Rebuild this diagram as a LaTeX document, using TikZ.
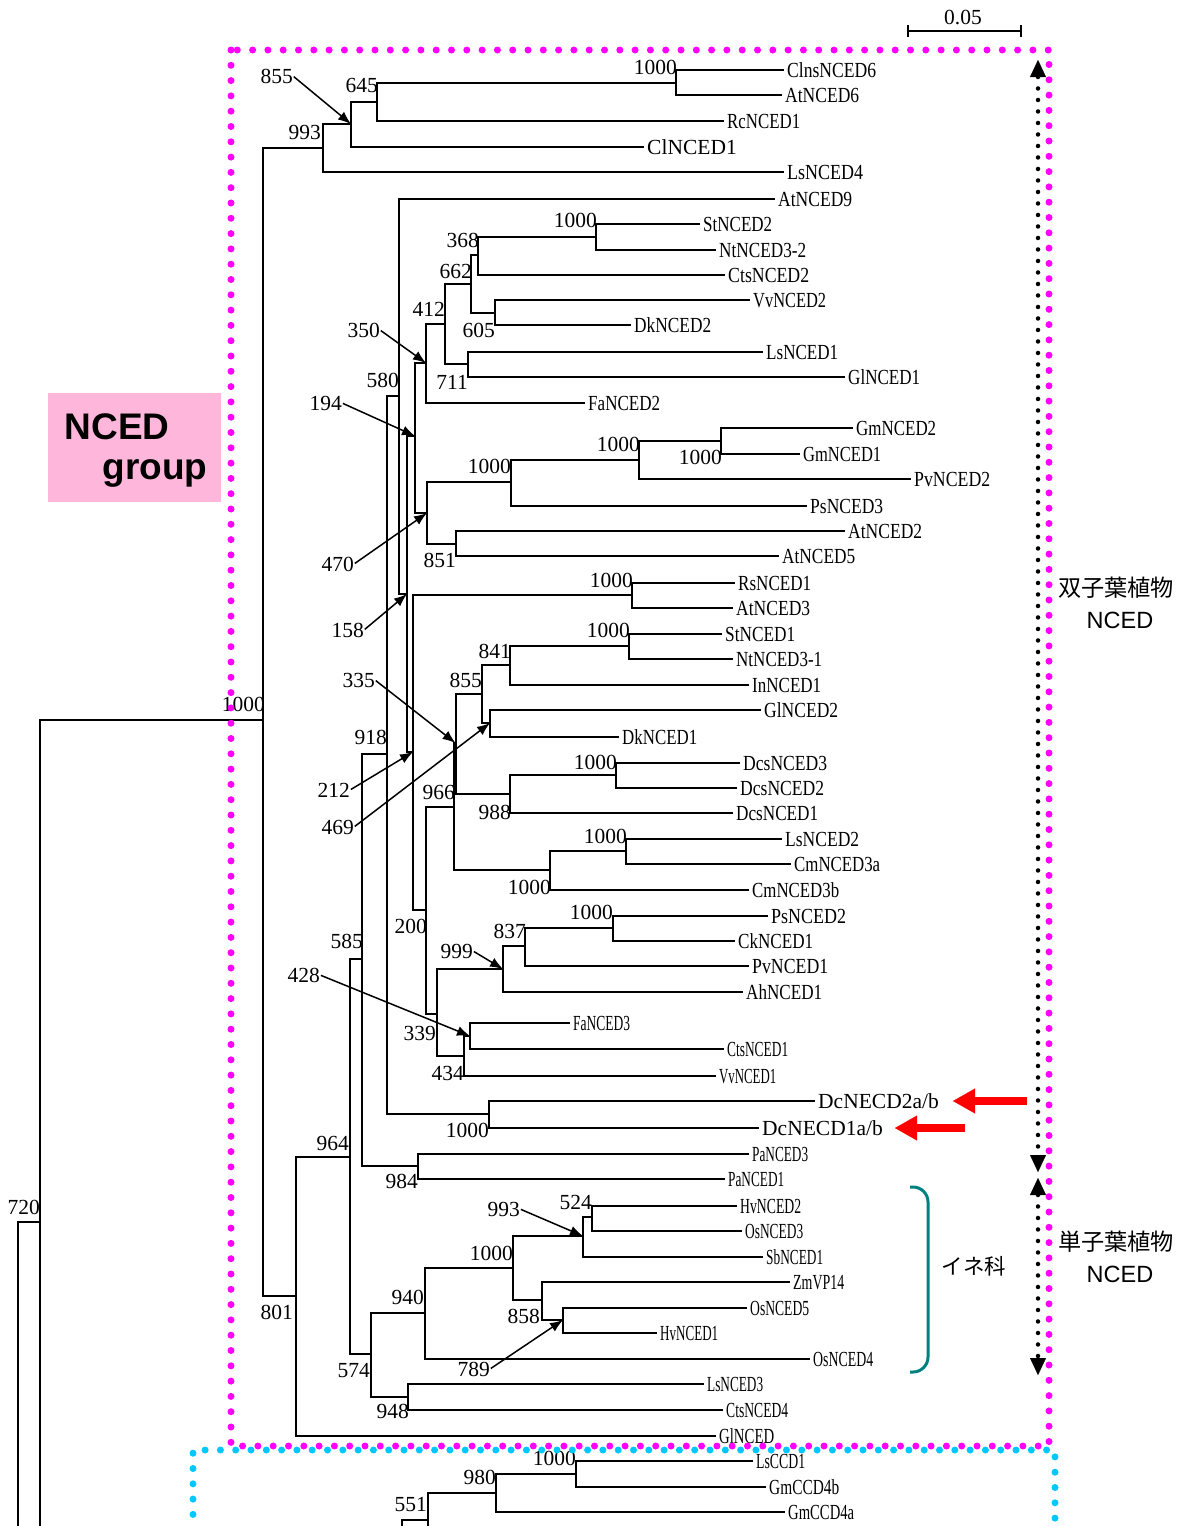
\documentclass[tikz,border=0pt]{standalone}
\usepackage{fontspec}
\setmainfont{Liberation Serif}
\newfontfamily\sansf{Liberation Sans}
\newfontfamily\cjkf{Noto Sans CJK JP}
\usepackage{graphicx}
\usetikzlibrary{arrows.meta}
\definecolor{magc}{RGB}{255,0,255}
\definecolor{cyac}{RGB}{0,200,255}
\definecolor{pinkc}{RGB}{255,182,219}
\definecolor{tealc}{RGB}{0,128,128}
\newcommand\Lf[5]{\node[lf] (#1) at (#2,#3) {\resizebox{#5pt}{\height}{#4}};}
\newcommand\Ln[4]{\node[lf] (#1) at (#2,#3) {#4};}
\newcommand\Bs[4]{\node[bs] (#1) at (#2,#3) {#4};}
\newcommand\Eg[2]{\draw[br] (#1) |- (#2);}
\newcommand\El[2]{\draw[br] (#1) |- (#2.west);}
\newcommand\Pt[2]{\draw[ptr] (#1.east) -- (#2);}
\begin{document}
\begin{tikzpicture}[x=1pt,y=-1pt,
 br/.style={line width=2pt},
 lf/.style={anchor=west,inner xsep=3pt,inner ysep=0pt,font=\fontsize{21.5}{24}\selectfont,text height=14.6pt,text depth=0pt},
 bs/.style={anchor=east,inner sep=0pt,font=\fontsize{21.5}{24}\selectfont,text height=14.6pt,text depth=0pt},
 ptr/.style={line width=1.5pt,-{Latex[length=13pt,width=10pt]},shorten <=1pt},
 magdots/.style={draw=magc,line width=7pt,line cap=round,dash pattern=on 0pt off 15.3pt},
 cyadots/.style={draw=cyac,line width=7pt,line cap=round,dash pattern=on 0pt off 15.3pt},
 blkdots/.style={draw=black,line width=4.5pt,line cap=round,dash pattern=on 0pt off 11.5pt},
 redar/.style={draw=red,line width=8pt,-{Triangle[length=22pt,width=25pt,line width=0.1pt]}},
 bigtip/.style={{Triangle[length=17pt,width=16pt,line width=0.1pt]}-{Triangle[length=17pt,width=16pt,line width=0.1pt]}}
]
\useasboundingbox (0,0) rectangle (1188,1526);

% ---------- NCED group box ----------
\node[fill=pinkc,minimum width=173pt,minimum height=109pt,inner sep=0pt] (gbox) at (134.5,447.5) {};
\node[font=\sansf\bfseries\fontsize{37}{40}\selectfont,inner sep=0pt] (gt1) at (117,426.5) {NCED};
\node[font=\sansf\bfseries\fontsize{37}{40}\selectfont,inner sep=0pt] (gt2) at (155,473.5) {group};

% ---------- internal node coordinates ----------
\coordinate (croot) at (263,720);
\coordinate (c993) at (323,148);
\coordinate (c855) at (351,124);
\coordinate (c645) at (377,102);
\coordinate (c1000a) at (676,82.5);
\coordinate (c801) at (296,1296);
\coordinate (c964) at (350,1157);
\coordinate (c585) at (362,959);
\coordinate (c918) at (387,754);
\coordinate (c580) at (399,396);
\coordinate (c158) at (407,594);
\coordinate (c194) at (415,436);
\coordinate (c350) at (426,363);
\coordinate (c412) at (445,324);
\coordinate (c662) at (471,284);
\coordinate (c368) at (478,255);
\coordinate (c1000b) at (596,237);
\coordinate (c605) at (495,313);
\coordinate (c711) at (468,364);
\coordinate (c470) at (427,513);
\coordinate (c1000c) at (511,482);
\coordinate (c1000d) at (639,460);
\coordinate (c1000e) at (721,441);
\coordinate (c851) at (456,544);
\coordinate (c212) at (413,752);
\coordinate (c1000f) at (632,595);
\coordinate (c200) at (426,910);
\coordinate (c966) at (454,807);
\coordinate (c335) at (455.5,743);
\coordinate (c855b) at (482,694);
\coordinate (c841) at (510,665);
\coordinate (c1000h) at (629,646);
\coordinate (c469) at (490,723);
\coordinate (c988) at (510,794);
\coordinate (c1000i) at (616,775);
\coordinate (c1000g) at (550,870);
\coordinate (c1000j) at (626,851);
\coordinate (c339) at (437,1014);
\coordinate (c999) at (503,969);
\coordinate (c837) at (525,946);
\coordinate (c1000l) at (613,928);
\coordinate (c434) at (464,1056);
\coordinate (c428) at (470,1036);
\coordinate (c1000k) at (489,1114);
\coordinate (c984) at (418,1166);
\coordinate (c574) at (371,1354);
\coordinate (c940) at (425,1313);
\coordinate (c1000m) at (513,1268);
\coordinate (c993b) at (583,1236);
\coordinate (c524) at (592,1217);
\coordinate (c858) at (542,1300);
\coordinate (c789) at (563,1320);
\coordinate (c948) at (408,1397);
\coordinate (c720) at (40,1222);
\coordinate (cut720) at (40,1545);
\coordinate (p18) at (18,1545);
\coordinate (c1000n) at (576,1474);
\coordinate (c980) at (496,1493);
\coordinate (c551) at (428,1520);
\coordinate (cut551) at (428,1545);
\coordinate (p402) at (402,1545);

% ---------- leaves ----------
\Lf{L01}{784}{70}{ClnsNCED6}{89}
\Lf{L02}{782}{95}{AtNCED6}{74}
\Lf{L03}{724}{121}{RcNCED1}{73}
\Ln{L04}{644}{147}{ClNCED1}
\Lf{L05}{784}{172}{LsNCED4}{76}
\Lf{L06}{775}{199}{AtNCED9}{74}
\Lf{L07}{700}{224}{StNCED2}{69}
\Lf{L08}{716}{250}{NtNCED3-2}{87}
\Lf{L09}{725}{275}{CtsNCED2}{81}
\Lf{L10}{750}{300}{VvNCED2}{73}
\Lf{L11}{631}{325}{DkNCED2}{77}
\Lf{L12}{763}{352}{LsNCED1}{72}
\Lf{L13}{845}{377}{GlNCED1}{72}
\Lf{L14}{585}{403}{FaNCED2}{72}
\Lf{L15}{853}{428}{GmNCED2}{80}
\Lf{L16}{800}{454}{GmNCED1}{78}
\Lf{L17}{911}{479}{PvNCED2}{76}
\Lf{L18}{807}{506}{PsNCED3}{73}
\Lf{L19}{845}{531}{AtNCED2}{74}
\Lf{L20}{779}{556}{AtNCED5}{73}
\Lf{L21}{735}{583}{RsNCED1}{73}
\Lf{L22}{733}{608}{AtNCED3}{74}
\Lf{L23}{722}{634}{StNCED1}{70}
\Lf{L24}{733}{659}{NtNCED3-1}{86}
\Lf{L25}{749}{685}{InNCED1}{69}
\Lf{L26}{761}{710}{GlNCED2}{74}
\Lf{L27}{619}{737}{DkNCED1}{75}
\Lf{L28}{740}{763}{DcsNCED3}{84}
\Lf{L29}{737}{788}{DcsNCED2}{84}
\Lf{L30}{733}{813}{DcsNCED1}{82}
\Lf{L31}{782}{839}{LsNCED2}{74}
\Lf{L32}{791}{864}{CmNCED3a}{86}
\Lf{L33}{749}{890}{CmNCED3b}{87}
\Lf{L34}{768}{916}{PsNCED2}{75}
\Lf{L35}{735}{941}{CkNCED1}{75}
\Lf{L36}{749}{966}{PvNCED1}{76}
\Lf{L37}{743}{992}{AhNCED1}{76}
\Lf{L38}{570}{1023}{FaNCED3}{57}
\Lf{L39}{724}{1049}{CtsNCED1}{61}
\Lf{L40}{716}{1076}{VvNCED1}{57}
\Ln{L41}{815}{1101}{DcNECD2a/b}
\Ln{L42}{759}{1128}{DcNECD1a/b}
\Lf{L43}{749}{1154}{PaNCED3}{56}
\Lf{L44}{725}{1179}{PaNCED1}{56}
\Lf{L45}{737}{1206}{HvNCED2}{61}
\Lf{L46}{742}{1231}{OsNCED3}{58}
\Lf{L47}{763}{1257}{SbNCED1}{57}
\Lf{L48}{790}{1282}{ZmVP14}{51}
\Lf{L49}{747}{1308}{OsNCED5}{59}
\Lf{L50}{657}{1333}{HvNCED1}{58}
\Lf{L51}{810}{1359}{OsNCED4}{60}
\Lf{L52}{704}{1384}{LsNCED3}{56}
\Lf{L53}{723}{1410}{CtsNCED4}{62}
\Lf{L54}{716}{1436}{GlNCED}{55}
\Lf{L55}{753}{1461}{LsCCD1}{49}
\Lf{L56}{766}{1487}{GmCCD4b}{70}
\Lf{L57}{785}{1512}{GmCCD4a}{66}

% ---------- branches ----------
\Eg{p18}{c720}
\draw[br] (c720) -- (cut720);
\Eg{c720}{croot}
\Eg{croot}{c993}
\Eg{croot}{c801}
\Eg{c993}{c855} \El{c993}{L05}
\Eg{c855}{c645} \El{c855}{L04}
\Eg{c645}{c1000a} \El{c645}{L03}
\El{c1000a}{L01} \El{c1000a}{L02}
\Eg{c801}{c964} \El{c801}{L54}
\Eg{c964}{c585} \Eg{c964}{c574}
\Eg{c585}{c918} \Eg{c585}{c984}
\Eg{c918}{c580} \Eg{c918}{c1000k}
\El{c580}{L06} \Eg{c580}{c158}
\Eg{c158}{c194} \Eg{c158}{c212}
\Eg{c194}{c350} \Eg{c194}{c470}
\Eg{c350}{c412} \El{c350}{L14}
\Eg{c412}{c662} \Eg{c412}{c711}
\Eg{c662}{c368} \Eg{c662}{c605}
\Eg{c368}{c1000b} \El{c368}{L09}
\El{c1000b}{L07} \El{c1000b}{L08}
\El{c605}{L10} \El{c605}{L11}
\El{c711}{L12} \El{c711}{L13}
\Eg{c470}{c1000c} \Eg{c470}{c851}
\Eg{c1000c}{c1000d} \El{c1000c}{L18}
\Eg{c1000d}{c1000e} \El{c1000d}{L17}
\El{c1000e}{L15} \El{c1000e}{L16}
\El{c851}{L19} \El{c851}{L20}
\Eg{c212}{c1000f} \Eg{c212}{c200}
\El{c1000f}{L21} \El{c1000f}{L22}
\Eg{c200}{c966} \Eg{c200}{c339}
\Eg{c966}{c335} \Eg{c966}{c1000g}
\Eg{c335}{c855b} \Eg{c335}{c988}
\Eg{c855b}{c841} \Eg{c855b}{c469}
\Eg{c841}{c1000h} \El{c841}{L25}
\El{c1000h}{L23} \El{c1000h}{L24}
\El{c469}{L26} \El{c469}{L27}
\Eg{c988}{c1000i} \El{c988}{L30}
\El{c1000i}{L28} \El{c1000i}{L29}
\Eg{c1000g}{c1000j} \El{c1000g}{L33}
\El{c1000j}{L31} \El{c1000j}{L32}
\Eg{c339}{c999} \Eg{c339}{c434}
\Eg{c999}{c837} \El{c999}{L37}
\Eg{c837}{c1000l} \El{c837}{L36}
\El{c1000l}{L34} \El{c1000l}{L35}
\Eg{c434}{c428} \El{c434}{L40}
\El{c428}{L38} \El{c428}{L39}
\El{c1000k}{L41} \El{c1000k}{L42}
\El{c984}{L43} \El{c984}{L44}
\Eg{c574}{c940} \Eg{c574}{c948}
\Eg{c940}{c1000m} \El{c940}{L51}
\Eg{c1000m}{c993b} \Eg{c1000m}{c858}
\Eg{c993b}{c524} \El{c993b}{L47}
\El{c524}{L45} \El{c524}{L46}
\El{c858}{L48} \Eg{c858}{c789}
\El{c789}{L49} \El{c789}{L50}
\El{c948}{L52} \El{c948}{L53}
\Eg{p402}{c551}
\draw[br] (c551) -- (cut551);
\Eg{c551}{c980}
\Eg{c980}{c1000n} \El{c980}{L57}
\El{c1000n}{L55} \El{c1000n}{L56}

% ---------- bootstrap values ----------
\Bs{broot}{265}{704}{1000}
\Bs{b720}{40}{1207}{720}
\Bs{b1}{677}{67}{1000}
\Bs{b645}{378}{85}{645}
\Bs{b855}{293}{76}{855}
\Bs{b993}{321}{132}{993}
\Bs{b2}{597}{220}{1000}
\Bs{b368}{479}{240}{368}
\Bs{b662}{472}{271}{662}
\Bs{b412}{445}{309}{412}
\Bs{b605}{495}{330}{605}
\Bs{b350}{380}{330}{350}
\Bs{b580}{399}{380}{580}
\Bs{b711}{468}{382}{711}
\Bs{b194}{342}{403}{194}
\Bs{b3}{511}{466}{1000}
\Bs{b4}{640}{444}{1000}
\Bs{b5}{722}{457}{1000}
\Bs{b851}{456}{560}{851}
\Bs{b470}{354}{564}{470}
\Bs{b6}{633}{580}{1000}
\Bs{b158}{364}{630}{158}
\Bs{b7}{630}{630}{1000}
\Bs{b841}{511}{651}{841}
\Bs{b335}{375}{680}{335}
\Bs{b855x}{482}{680}{855}
\Bs{b918}{387}{737}{918}
\Bs{b212}{350}{790}{212}
\Bs{b8}{617}{762}{1000}
\Bs{b966}{455}{792}{966}
\Bs{b988}{511}{812}{988}
\Bs{b469}{354}{827}{469}
\Bs{b9}{627}{836}{1000}
\Bs{b10}{551}{887}{1000}
\Bs{b11}{613}{912}{1000}
\Bs{b837}{526}{931}{837}
\Bs{b200}{427}{926}{200}
\Bs{b585}{363}{941}{585}
\Bs{b999}{473}{951}{999}
\Bs{b428}{320}{975}{428}
\Bs{b339}{436}{1033}{339}
\Bs{b434}{464}{1073}{434}
\Bs{b12}{489}{1130}{1000}
\Bs{b964}{349}{1143}{964}
\Bs{b984}{418}{1181}{984}
\Bs{b524}{592}{1202}{524}
\Bs{b993x}{520}{1209}{993}
\Bs{b13}{513}{1253}{1000}
\Bs{b940}{424}{1297}{940}
\Bs{b858}{540}{1316}{858}
\Bs{b801}{293}{1312}{801}
\Bs{b789}{490}{1369}{789}
\Bs{b574}{370}{1370}{574}
\Bs{b948}{409}{1411}{948}
\Bs{b14}{576}{1458}{1000}
\Bs{b980}{496}{1477}{980}
\Bs{b551}{427}{1504}{551}

% ---------- pointer arrows ----------
\Pt{b855}{c855}
\Pt{b350}{c350}
\Pt{b194}{c194}
\Pt{b470}{c470}
\Pt{b158}{c158}
\Pt{b335}{c335}
\Pt{b212}{c212}
\Pt{b469}{c469}
\Pt{b428}{c428}
\Pt{b999}{c999}
\Pt{b993x}{c993b}
\Pt{b789}{c789}

% ---------- frames ----------
\coordinate (m1) at (231,50);
\coordinate (m2) at (1049,1446);
\draw[magdots] (m1) rectangle (m2);
\coordinate (cy1) at (193,1545);
\coordinate (cy2) at (193,1450);
\coordinate (cy3) at (1055,1450);
\coordinate (cy4) at (1055,1545);
\draw[cyadots] (cy1) -- (cy2) -- (cy3) -- (cy4);

% ---------- scale bar ----------
\coordinate (sb1) at (908,31);
\coordinate (sb2) at (1021,31);
\draw[line width=1.5pt] (sb1) -- (sb2);
\draw[line width=1.5pt] ([yshift=6pt]sb1) -- ([yshift=-6pt]sb1);
\draw[line width=1.5pt] ([yshift=6pt]sb2) -- ([yshift=-6pt]sb2);
\node[font=\fontsize{21.5}{24}\selectfont,inner sep=0pt] (sbt) at (963,18) {0.05};

% ---------- vertical double arrows ----------
\coordinate (va1) at (1038,60);
\coordinate (va2) at (1038,1172);
\coordinate (vb1) at (1038,1178);
\coordinate (vb2) at (1038,1375);
\draw[blkdots,bigtip] (va1) -- (va2);
\draw[blkdots,bigtip] (vb1) -- (vb2);

% ---------- group texts ----------
\node[font=\cjkf\fontsize{23.2}{26}\selectfont,inner sep=0pt] (dic) at (1116,588) {双子葉植物};
\node[font=\sansf\fontsize{23.5}{26}\selectfont,inner sep=0pt] (dicn) at (1120,620) {NCED};
\node[font=\cjkf\fontsize{23.2}{26}\selectfont,inner sep=0pt] (mon) at (1116,1242) {単子葉植物};
\node[font=\sansf\fontsize{23.5}{26}\selectfont,inner sep=0pt] (monn) at (1120,1274) {NCED};
\node[font=\cjkf\fontsize{21.5}{24}\selectfont,inner sep=0pt] (ine) at (974,1266) {イネ科};

% ---------- bracket ----------
\coordinate (bk1) at (910,1187);
\coordinate (bk2) at (928,1187);
\coordinate (bk3) at (928,1372);
\coordinate (bk4) at (910,1372);
\draw[tealc,line width=3pt,rounded corners=15pt] (bk1) -- (bk2) -- (bk3) -- (bk4);

% ---------- red arrows ----------
\coordinate (ra1) at (1027,1101);
\coordinate (ra2) at (965,1128);
\draw[redar,shorten >=11pt] (ra1) -- (L41);
\draw[redar,shorten >=9pt] (ra2) -- (L42);
\end{tikzpicture}
\end{document}
